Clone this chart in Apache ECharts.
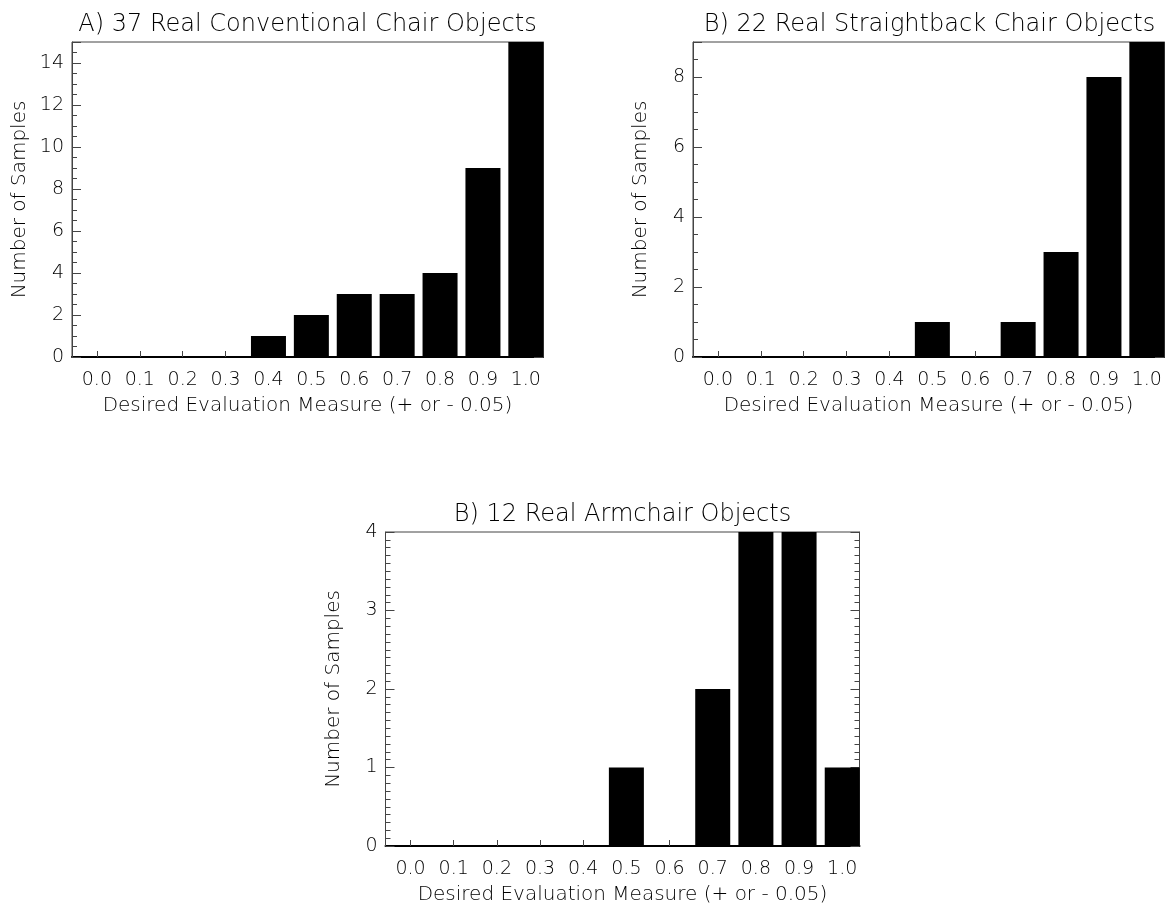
<!DOCTYPE html>
<html><head><meta charset="utf-8">
<script src="https://cdn.jsdelivr.net/npm/echarts@6/dist/echarts.min.js"></script>
<style>html,body{margin:0;padding:0;background:#fff}#c{width:1167px;height:906px}</style>
</head><body><div id="c"></div>
<script>
// ---- data ----
const measureValues = [0.0, 0.1, 0.2, 0.3, 0.4, 0.5, 0.6, 0.7, 0.8, 0.9, 1.0];
const tickLabels = ['0.0','0.1','0.2','0.3','0.4','0.5','0.6','0.7','0.8','0.9','1.0'];
const conventionalCounts = [0, 0, 0, 0, 1, 2, 3, 3, 4, 9, 15];
const straightbackCounts = [0, 0, 0, 0, 0, 1, 0, 1, 3, 8, 9];
const armchairCounts     = [0, 0, 0, 0, 0, 1, 0, 2, 4, 4, 1];
const panelTitles = ['A) 37 Real Conventional Chair Objects', 'B) 22 Real Straightback Chair Objects', 'B) 12 Real Armchair Objects'];
const xAxisName = 'Desired Evaluation Measure (+ or - 0.05)';
const yAxisName = 'Number of Samples';
const yMaxima = [15, 9, 4];
const yIntervals = [2, 2, 1];
const yMinorSplits = [4, 4, 10];

// ---- layout ----
const FONT = 'DejaVu Sans';
const grids = [
  {left: 72, top: 42, width: 471, height: 315},
  {left: 693, top: 42, width: 473, height: 315},
  {left: 385.5, top: 532, width: 474, height: 315}
];
const countsList = [conventionalCounts, straightbackCounts, armchairCounts];

const chart = echarts.init(document.getElementById('c'), null, {renderer: 'canvas'});
const tickColor = '#444';
const option = {
  animation: false,
  backgroundColor: '#fff',
  title: grids.map((g, i) => ({
    text: panelTitles[i],
    left: g.left + g.width / 2,
    top: g.top - 29,
    textAlign: 'center',
    padding: 0,
    textStyle: {fontFamily: FONT, fontSize: 24, fontWeight: 200, color: '#000'}
  })),
  grid: grids.map(g => ({left: g.left, top: g.top, width: g.width, height: g.height,
    show: true, borderColor: tickColor, borderWidth: 1, containLabel: false})),
  xAxis: grids.map((g, i) => ({
    type: 'value', gridIndex: i, min: -0.058, max: 1.04, splitNumber: 11,
    name: xAxisName, nameLocation: 'middle', nameGap: 39,
    nameTextStyle: {fontFamily: FONT, fontSize: 20, fontWeight: 200, color: '#000'},
    axisLine: {show: true, onZero: false, lineStyle: {color: '#000', width: 2}},
    axisTick: {show: true, inside: true, length: 6, lineStyle: {color: tickColor}},
    splitLine: {show: false},
    axisLabel: {
      margin: 14, fontFamily: FONT, fontSize: 19, fontWeight: 200, color: '#000',
      formatter: v => { const k = measureValues.findIndex(m => Math.abs(m - v) < 1e-6); return k >= 0 ? tickLabels[k] : ''; }
    }
  })),
  yAxis: [].concat(
    grids.map((g, i) => ({
      type: 'value', gridIndex: i, position: 'left', min: 0, max: yMaxima[i], interval: yIntervals[i],
      name: yAxisName, nameLocation: 'middle', nameGap: 42, nameRotate: 90,
      nameTextStyle: {fontFamily: FONT, fontSize: 20, fontWeight: 200, color: '#000'},
      axisLine: {show: true, onZero: false, lineStyle: {color: tickColor, width: 1}},
      axisTick: {show: true, inside: true, length: 9, lineStyle: {color: tickColor}},
      minorTick: {show: true, splitNumber: yMinorSplits[i], length: 5, lineStyle: {color: tickColor}},
      splitLine: {show: false},
      axisLabel: {margin: 8, fontFamily: FONT, fontSize: 19, fontWeight: 200, color: '#000',
        showMaxLabel: yMaxima[i] % yIntervals[i] === 0}
    })),
    grids.map((g, i) => ({
      type: 'value', gridIndex: i, position: 'right', min: 0, max: yMaxima[i], interval: yIntervals[i],
      axisLine: {show: true, onZero: false, lineStyle: {color: tickColor, width: 1}},
      axisTick: {show: true, inside: true, length: 9, lineStyle: {color: tickColor}},
      minorTick: {show: true, splitNumber: yMinorSplits[i], length: 5, lineStyle: {color: tickColor}},
      splitLine: {show: false},
      axisLabel: {show: false}
    }))
  ),
  series: countsList.map((counts, i) => ({
    type: 'bar', xAxisIndex: i, yAxisIndex: i, barWidth: 35,
    data: measureValues.map((m, k) => [m, counts[k]]),
    itemStyle: {color: '#000'},
    z: 1
  }))
};
chart.setOption(option);
</script></body></html>
